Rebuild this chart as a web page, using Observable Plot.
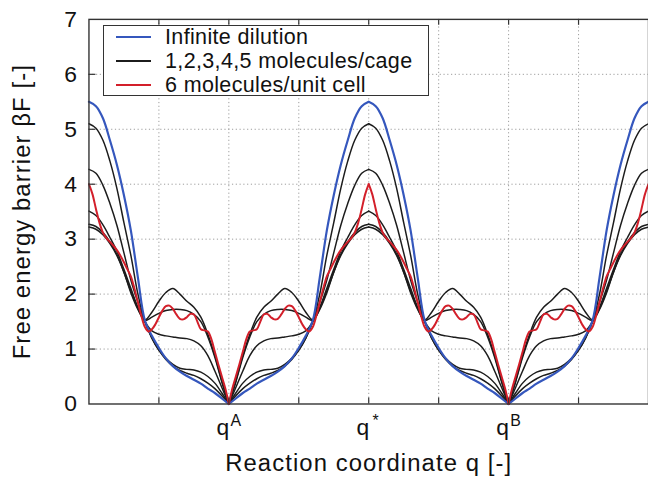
<!DOCTYPE html>
<html>
<head>
<meta charset="utf-8">
<script src="https://cdn.jsdelivr.net/npm/d3@7"></script>
<script src="https://cdn.jsdelivr.net/npm/@observablehq/plot@0.6"></script>
<style>
html, body { margin: 0; padding: 0; background: #fff; overflow: hidden; width: 648px; height: 477px; }
#wrap { position: relative; width: 648px; height: 477px; overflow: hidden; }
#legend { position: absolute; left: 103px; top: 25px; width: 324px; height: 69px; border: 1.5px solid #333;
  background: #fff; font-family: "Liberation Sans", Arial, sans-serif; font-size: 21.5px; letter-spacing: 0.35px; color: #111; }
.row { position: absolute; left: 0; height: 22px; line-height: 22px; display: flex; align-items: center; white-space: nowrap; }
.sample { display: inline-block; width: 35px; height: 0; margin-left: 12px; margin-right: 14px; }
</style>
</head>
<body>
<div id="wrap"></div>
<script>
// ---- data ----
// x positions in grid units: q^A = 2, q* = 4, q^B = 6; plot spans 0..8
const xTickPos = [2, 4, 6];
const xTickBase = ["q", "q", "q"];
const xTickSup = ["A", "*", "B"];
const xGrid = [1, 2, 3, 4, 5, 6, 7];
const yTicks = [0, 1, 2, 3, 4, 5, 6, 7];
const yGrid = [1, 2, 3, 4, 5, 6];
const minima = [2, 6];          // q^A, q^B
const xTitle = "Reaction coordinate q [-]";
const yTitle = "Free energy barrier \u03B2F [-]";

const seriesNames = ["Infinite dilution", "1,2,3,4,5 molecules/cage", "6 molecules/unit cell"];
const seriesColors = ["#3557bd", "#1c1c1c", "#d31f2a"];

// half profiles: distance d from a minimum (0) to the barrier top q* (2)
const dHalf = [0, 0.1, 0.2, 0.3, 0.4, 0.5, 0.6, 0.7, 0.8, 0.9, 1.0, 1.1, 1.2, 1.3, 1.4, 1.5, 1.6, 1.7, 1.8, 1.9, 2.0];
const blueHalf = [0, 0.1, 0.2, 0.28, 0.37, 0.44, 0.51, 0.59, 0.69, 0.83, 1.02, 1.24, 1.52, 2.3, 3.15, 3.8, 4.35, 4.8, 5.2, 5.42, 5.5];
const black1 = [0, 0.15, 0.28, 0.38, 0.46, 0.52, 0.56, 0.61, 0.69, 0.81, 0.98, 1.2, 1.5, 2.0, 2.7, 3.3, 3.92, 4.42, 4.8, 5.02, 5.1];
const black2 = [0, 0.2, 0.38, 0.5, 0.58, 0.62, 0.63, 0.65, 0.72, 0.83, 0.98, 1.2, 1.5, 1.85, 2.25, 2.75, 3.25, 3.65, 3.98, 4.2, 4.27];
const black3 = [0, 0.3, 0.6, 0.88, 1.06, 1.15, 1.19, 1.2, 1.22, 1.24, 1.27, 1.33, 1.5, 1.76, 2.1, 2.45, 2.78, 3.03, 3.26, 3.43, 3.51];
const black4 = [0, 0.4, 0.85, 1.22, 1.5, 1.63, 1.7, 1.72, 1.72, 1.7, 1.65, 1.58, 1.52, 1.74, 2.05, 2.4, 2.72, 2.95, 3.12, 3.23, 3.27];
const black5 = [0, 0.42, 0.88, 1.27, 1.58, 1.76, 1.87, 2.0, 2.1, 2.03, 1.87, 1.67, 1.53, 1.72, 2.02, 2.4, 2.7, 2.92, 3.08, 3.18, 3.22];
const dHalfRed = [0, 0.05, 0.1, 0.15, 0.2, 0.25, 0.3, 0.35, 0.4, 0.45, 0.5, 0.55, 0.6, 0.65, 0.7, 0.75, 0.8, 0.85, 0.9, 0.95,
  1.0, 1.05, 1.1, 1.15, 1.2, 1.25, 1.3, 1.35, 1.4, 1.45, 1.5, 1.55, 1.6, 1.65, 1.7, 1.75, 1.8, 1.85, 1.9, 1.95, 2.0];
const redHalf = [0, 0.28, 0.5, 0.72, 0.95, 1.18, 1.32, 1.34, 1.36, 1.5, 1.63, 1.64, 1.58, 1.54, 1.55, 1.63, 1.73, 1.79, 1.78, 1.7,
  1.58, 1.45, 1.36, 1.32, 1.4, 1.6, 1.85, 2.1, 2.32, 2.45, 2.58, 2.7, 2.8, 2.88, 2.95, 3.02, 3.12, 3.3, 3.55, 3.82, 4.0];

// the profile is symmetric about each minimum: place the half profile on both sides of q^A and q^B
function mirrored(name, dArr, vArr) {
  const rows = [];
  minima.forEach((m, mi) => {
    [-1, 1].forEach((side, si) => {
      dArr.forEach((d, i) => rows.push({s: name + "-" + mi + "-" + si, x: m + side * d, y: vArr[i]}));
    });
  });
  return rows;
}
const blackData = [black1, black2, black3, black4, black5].flatMap((v, k) => mirrored("b" + k, dHalf, v));
const blueData = mirrored("blue", dHalf, blueHalf);
const redData = mirrored("red", dHalfRed, redHalf);

// ---- chart ----
const W = 652, H = 477, mL = 89, mR = 0, mT = 19, mB = 71;
const fw = W - mL - mR, fh = H - mT - mB;
const gridStyle = {stroke: "#9c9c9c", strokeWidth: 1, strokeDasharray: "1.2,2.6"};
const axisColor = "#333";
const font = "Liberation Sans, Arial, sans-serif";

const chart = Plot.plot({
  width: W, height: H,
  marginLeft: mL, marginRight: mR, marginTop: mT, marginBottom: mB,
  x: {domain: [0, 8], axis: null},
  y: {domain: [0, 7], axis: null},
  style: {fontFamily: font, background: "#fff", overflow: "visible"},
  marks: [
    Plot.ruleY(yGrid, {y: d => d, ...gridStyle}),
    Plot.ruleX(xGrid, {x: d => d, ...gridStyle}),
    Plot.line(blackData, {x: "x", y: "y", z: "s", stroke: seriesColors[1], strokeWidth: 1.5, curve: "catmull-rom", strokeLinecap: "round"}),
    Plot.line(blueData, {x: "x", y: "y", z: "s", stroke: seriesColors[0], strokeWidth: 2.2, curve: "catmull-rom", strokeLinecap: "round"}),
    Plot.line(redData, {x: "x", y: "y", z: "s", stroke: seriesColors[2], strokeWidth: 2, curve: "catmull-rom", strokeLinecap: "round"}),
    Plot.frame({stroke: axisColor, strokeWidth: 1.4}),
    // inward tick marks
    Plot.ruleX(xGrid, {x: d => d, stroke: axisColor, strokeWidth: 1.2, insetTop: fh - 6}),
    Plot.ruleX(xGrid, {x: d => d, stroke: axisColor, strokeWidth: 1.2, insetBottom: fh - 6}),
    Plot.ruleY(yGrid, {y: d => d, stroke: axisColor, strokeWidth: 1.2, insetRight: fw - 7}),
    // tick labels
    Plot.text(yTicks, {y: d => d, text: d => String(d), frameAnchor: "left", textAnchor: "end", dx: -12, fontSize: 23, fill: "#111"}),
    Plot.text(xTickPos, {x: d => d, text: (d, i) => xTickBase[i], frameAnchor: "bottom", lineAnchor: "top", textAnchor: "middle", dx: -6, dy: 15, fontSize: 23, fill: "#111"}),
    Plot.text(xTickPos, {x: d => d, text: (d, i) => xTickSup[i], frameAnchor: "bottom", lineAnchor: "top", textAnchor: "middle", dx: 7, dy: 11, fontSize: 16, fill: "#111"}),
    // axis titles
    Plot.text([xTitle], {text: d => d, frameAnchor: "bottom", lineAnchor: "top", textAnchor: "middle", dy: 50, fontSize: 24, fill: "#111"}),
    Plot.text([yTitle], {text: d => d, frameAnchor: "left", textAnchor: "middle", lineAnchor: "middle", rotate: -90, dx: -67, fontSize: 24, fill: "#111"})
  ]
});
d3.select(chart).selectAll("text")
  .filter(function() { return this.textContent === xTitle || this.textContent === yTitle; })
  .style("letter-spacing", "1.1px");

const wrap = document.getElementById("wrap");
wrap.appendChild(chart);

// legend (inside the plot frame, top-left)
const legend = document.createElement("div");
legend.id = "legend";
const rowTops = [-0.5, 23.7, 47.9];
seriesNames.forEach((name, i) => {
  const row = document.createElement("div");
  row.className = "row";
  row.style.top = rowTops[i] + "px";
  const s = document.createElement("span");
  s.className = "sample";
  s.style.borderTop = "2px solid " + seriesColors[i];
  const t = document.createElement("span");
  t.textContent = name;
  row.appendChild(s);
  row.appendChild(t);
  legend.appendChild(row);
});
wrap.appendChild(legend);
</script>
</body>
</html>
